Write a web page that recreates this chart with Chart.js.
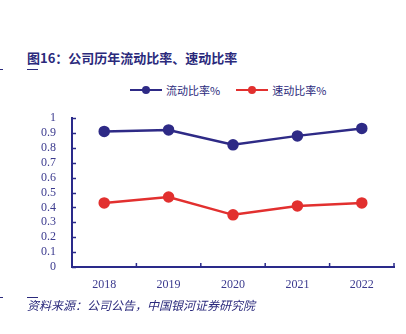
<!DOCTYPE html>
<html>
<head>
<meta charset="utf-8">
<script src="https://cdn.jsdelivr.net/npm/chart.js@4"></script>
<style>
  html, body { margin: 0; padding: 0; background: #fff; }
  #wrap { position: relative; width: 406px; height: 334px; overflow: hidden; }
  #chart { position: absolute; left: 0; top: 0; }
  .title { position: absolute; left: 27px; top: 48px; font: bold 13px "Noto Sans CJK SC"; color: #2b2a7c; white-space: nowrap; }
  .src { position: absolute; left: 27px; top: 296px; font: italic 12px "Noto Sans CJK SC"; color: #2b2a7c; white-space: nowrap; }
  .rule { position: absolute; height: 1px; background: #2b2a7c; }
  #legend { position: absolute; top: 82px; left: 130px; display: flex; font: 11px "Noto Sans CJK SC"; color: #2b2a7c; }
  .item { display: flex; align-items: center; margin-right: 16px; }
  .key { position: relative; width: 32px; height: 10px; margin-right: 4px; }
  .key i { position: absolute; left: 0; right: 0; top: 4px; height: 2px; }
  .key b { position: absolute; left: 12px; top: 1px; width: 8px; height: 8px; border-radius: 50%; }
</style>
</head>
<body>
<div id="wrap">
  <div class="title">图16：公司历年流动比率、速动比率</div>
  <div class="rule" style="left:27px;top:69px;width:11px"></div>
  <div class="rule" style="left:0;top:69px;width:3px"></div>
  <div id="legend"></div>
  <canvas id="chart" width="406" height="334"></canvas>
  <div class="rule" style="left:27px;top:297px;width:11px"></div>
  <div class="rule" style="left:0;top:297px;width:3px"></div>
  <div class="src">资料来源：公司公告，中国银河证券研究院</div>
</div>
<script>
const years = ['2018', '2019', '2020', '2021', '2022'];
const currentRatio = [0.91, 0.92, 0.82, 0.88, 0.93];
const quickRatio = [0.43, 0.47, 0.35, 0.41, 0.43];
const seriesNames = ['流动比率%', '速动比率%'];
const seriesColors = ['#2e2a86', '#e2302f'];
const yTicks = [0, 0.1, 0.2, 0.3, 0.4, 0.5, 0.6, 0.7, 0.8, 0.9, 1];

const navy = '#2a2a8a';
const tickFont = { family: 'Liberation Serif', size: 12 };

// legend built by hand: line with a dot in the middle
const legend = document.getElementById('legend');
seriesNames.forEach((name, i) => {
    const item = document.createElement('div');
    item.className = 'item';
    item.innerHTML = '<span class="key"><i style="background:' + seriesColors[i] + '"></i><b style="background:' +
        seriesColors[i] + '"></b></span>' + name;
    legend.appendChild(item);
});

// short tick marks pointing into the plot area
const innerTicks = {
    id: 'innerTicks',
    afterDraw(chart) {
        const ctx = chart.ctx;
        const x = chart.scales.x, y = chart.scales.y;
        ctx.save();
        ctx.strokeStyle = navy;
        ctx.lineWidth = 1.5;
        ctx.beginPath();
        yTicks.forEach(v => {
            const py = Math.round(y.getPixelForValue(v)) + 0.5;
            ctx.moveTo(x.left, py);
            ctx.lineTo(x.left + 4, py);
        });
        const half = (x.getPixelForValue(1) - x.getPixelForValue(0)) / 2;
        years.forEach((yr, i) => {
            const px = x.getPixelForValue(i) + half;
            ctx.moveTo(px, y.bottom);
            ctx.lineTo(px, y.bottom - 4);
        });
        ctx.stroke();
        ctx.restore();
    }
};

new Chart(document.getElementById('chart'), {
    type: 'line',
    data: {
        labels: years,
        datasets: [
            { label: seriesNames[0], data: currentRatio },
            { label: seriesNames[1], data: quickRatio }
        ].map((d, i) => Object.assign(d, {
            borderColor: seriesColors[i],
            backgroundColor: seriesColors[i],
            borderWidth: 2.5,
            pointRadius: 4.5,
            pointHoverRadius: 4.5,
            tension: 0
        }))
    },
    options: {
        responsive: false,
        animation: false,
        layout: { padding: { top: 118, right: 12, left: 0, bottom: 0 } },
        plugins: { legend: { display: false }, tooltip: { enabled: false } },
        scales: {
            x: {
                offset: true,
                grid: { display: false },
                border: { color: navy, width: 2 },
                ticks: { color: '#3b3a8e', font: tickFont, padding: 3 },
                afterFit(s) { s.height = 67; }
            },
            y: {
                min: 0, max: 1,
                grid: { display: false },
                border: { color: navy, width: 2 },
                afterBuildTicks(s) { s.ticks = yTicks.map(v => ({ value: v })); },
                ticks: {
                    color: '#3b3a8e', font: tickFont, padding: 8, autoSkip: false,
                    callback: v => String(Math.round(v * 10) / 10)
                },
                afterFit(s) { s.width = 72; }
            }
        }
    },
    plugins: [innerTicks]
});
</script>
</body>
</html>
